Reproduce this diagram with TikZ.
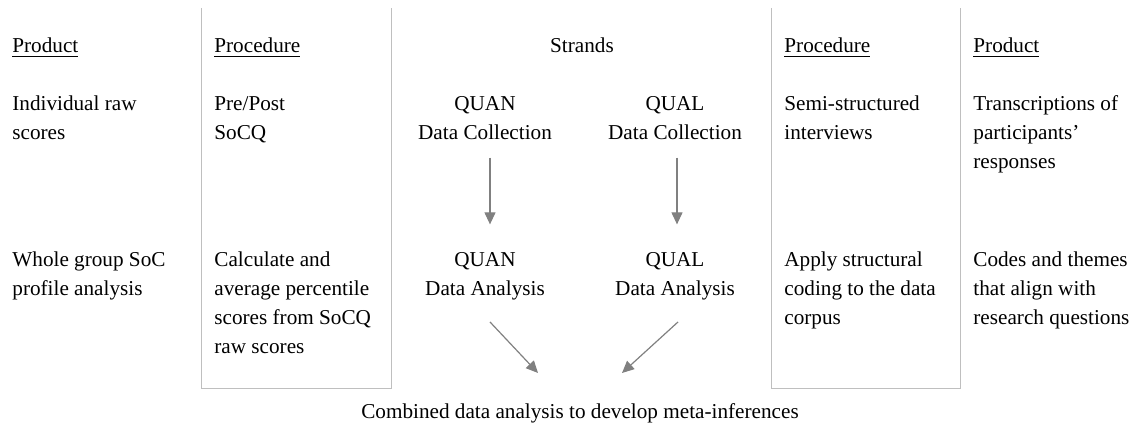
\documentclass[tikz,border=0pt]{standalone}
\usepackage{fontspec}
\setmainfont{Liberation Serif}
\usetikzlibrary{arrows.meta}
\begin{document}
\begin{tikzpicture}[x=0.5pt, y=-0.5pt,
	every node/.style={inner sep=0pt, font=\fontsize{10.6}{14.6}\selectfont},
	txt/.style={anchor=base west, align=left},
	mid/.style={anchor=base, align=center},
	rule/.style={draw=black!25, line width=0.5pt},
	flow/.style={draw=black!50, line width=0.6pt, -{Triangle[length=6pt, width=5.5pt]}}]
	\useasboundingbox (0,0) rectangle (1136,427);
	\draw[rule] (201,8) -- (201,389) -- (391,389) -- (391,8);
	\draw[rule] (771,8) -- (771,389) -- (960,389) -- (960,8);
\foreach \x/\t [count=\i] in {12/Product, 214/Procedure, 784/Procedure, 973/Product}
	\node[txt] (head\i) at (\x,53) {\underline{\t}};
	\node[mid] (strands) at (582,53) {Strands};
	\node[txt] (rawscores) at (12,140) {Individual raw\\scores};
	\node[txt] (prepost) at (214,140) {Pre/Post\\SoCQ};
	\node[mid] (quancoll) at (485,140) {QUAN\\Data Collection};
	\node[mid] (qualcoll) at (675,140) {QUAL\\Data Collection};
	\node[txt] (interviews) at (784,140) {Semi-structured\\interviews};
	\node[txt] (transcripts) at (973,169) {Transcriptions of\\participants'\\responses};
	\node[txt] (profile) at (12,296) {Whole group SoC\\profile analysis};
	\node[txt] (percentile) at (214,354) {Calculate and\\average percentile\\scores from SoCQ\\raw scores};
	\node[mid] (quanana) at (485,296) {QUAN\\Data Analysis};
	\node[mid] (qualana) at (675,296) {QUAL\\Data Analysis};
	\node[txt] (coding) at (784,325) {Apply structural\\coding to the data\\corpus};
	\node[txt] (themes) at (973,325) {Codes and themes\\that align with\\research questions};
	\node[mid] (combined) at (580,418) {Combined data analysis to develop meta-inferences};
	\coordinate (joinL) at (538,373);
	\coordinate (joinR) at (622,373);
	\draw[flow, shorten <=8.5pt, shorten >=14pt] ([xshift=2.5pt]quancoll.south) -- ([xshift=2.5pt]quanana.north);
	\draw[flow, shorten <=8.5pt, shorten >=14pt] ([xshift=1pt]qualcoll.south) -- ([xshift=1pt]qualana.north);
	\draw[flow] ([xshift=2.5pt, yshift=-10.5pt]quanana.south) -- (joinL);
	\draw[flow] ([xshift=1.5pt, yshift=-10.5pt]qualana.south) -- (joinR);
\end{tikzpicture}
\end{document}
